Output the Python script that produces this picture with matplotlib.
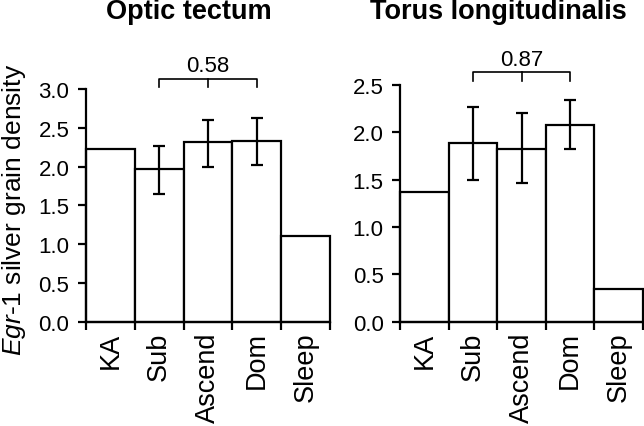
import matplotlib
matplotlib.use('Agg')
from matplotlib import pyplot as plt

plt.rcParams['font.family'] = ['Liberation Sans', 'DejaVu Sans']
plt.rcParams['mathtext.fontset'] = 'custom'
plt.rcParams['mathtext.rm'] = 'Liberation Sans'
plt.rcParams['mathtext.it'] = 'Liberation Sans:italic'

groups = ['KA', 'Sub', 'Ascend', 'Dom', 'Sleep']

tectum_mean = [2.23, 1.97, 2.32, 2.33, 1.11]
tectum_hi = [None, 2.27, 2.60, 2.62, None]
tectum_lo = [None, 1.65, 2.00, 2.02, None]

torus_mean = [1.37, 1.89, 1.82, 2.08, 0.345]
torus_hi = [None, 2.27, 2.20, 2.34, None]
torus_lo = [None, 1.50, 1.47, 1.82, None]

panels = [
    ('Optic tectum', tectum_mean, tectum_hi, tectum_lo, 3.0, 0.5, '0.58', 3.13, 3.02, 3.30),
    ('Torus longitudinalis', torus_mean, torus_hi, torus_lo, 2.5, 0.5, '0.87', 2.64, 2.545, 2.77),
]

fig = plt.figure(figsize=(6.44, 4.27), dpi=100)
rects = [[0.1335, 0.2443, 0.379, 0.545], [0.6216, 0.2443, 0.3764, 0.5543]]
title_x = [0.2935, 0.774]

lw = 1.6
for rect, tx, (title, mean, hi, lo, ymax, step, ptxt, by, bend, ty) in zip(
        rects, title_x, panels):
    ax = fig.add_axes(rect)
    x = list(range(len(groups)))
    ax.bar(x, mean, width=1.0, color='white', edgecolor='black',
           linewidth=lw, clip_on=False, zorder=2)

    ex = [i for i in x if hi[i] is not None]
    ey = [mean[i] for i in ex]
    err = [[mean[i] - lo[i] for i in ex], [hi[i] - mean[i] for i in ex]]
    ax.errorbar(ex, ey, yerr=err, fmt='none', ecolor='black',
                elinewidth=lw, capsize=4, capthick=lw, zorder=3, clip_on=False)

    # significance bracket Sub..Dom
    ax.plot([1, 1, 3, 3], [bend, by, by, bend], color='black', lw=1.2,
            clip_on=False)
    ax.plot([2, 2], [by, bend], color='black', lw=1.2, clip_on=False)
    ax.text(2, ty, ptxt, ha='center', va='center', fontsize=16)

    ax.set_xlim(-0.5, len(groups) - 0.5)
    ax.set_ylim(0, ymax)
    ticks = [i * step for i in range(int(round(ymax / step)) + 1)]
    ax.set_yticks(ticks)
    ax.set_yticklabels([f'{t:.1f}' for t in ticks], fontsize=16)
    ax.set_xticks(x)
    ax.set_xticklabels(groups, rotation=90, fontsize=19.5)
    ax.set_xticks([i - 0.5 for i in range(len(groups) + 1)], minor=True)
    ax.tick_params(axis='x', which='major', length=0, pad=7)
    ax.tick_params(axis='x', which='minor', length=6, width=lw)
    ax.tick_params(axis='y', length=6, width=lw, pad=6)

    for s in ['top', 'right']:
        ax.spines[s].set_visible(False)
    for s in ['left', 'bottom']:
        ax.spines[s].set_linewidth(lw)

    fig.text(tx, 0.972, title, ha='center', va='center',
             fontsize=19.5, fontweight='bold')

fig.text(0.022, 0.508, r'$\it{Egr}$-$\it{1}$ silver grain density',
         rotation=90, ha='center', va='center', fontsize=19)

fig.savefig('out.png', dpi=100)
